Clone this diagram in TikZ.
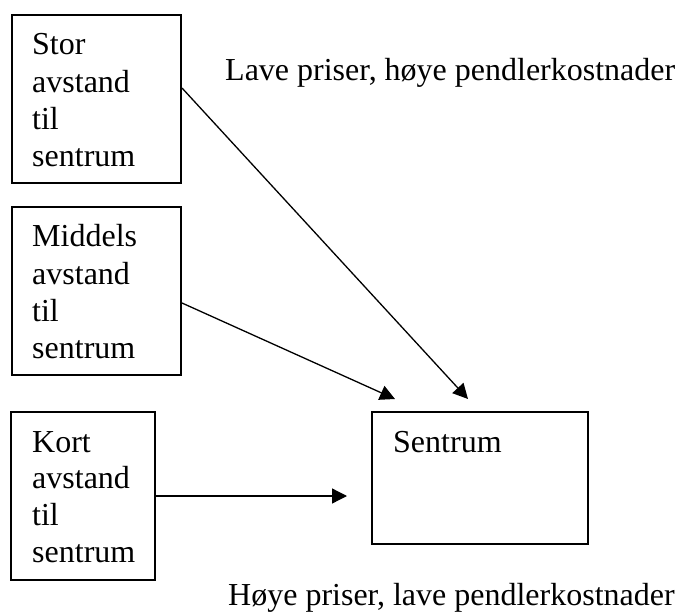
\documentclass[tikz,border=0pt]{standalone}
\usepackage{fontspec}
\setmainfont{Liberation Serif}
\usetikzlibrary{arrows.meta}
\begin{document}
\begin{tikzpicture}[x=1pt,y=-1pt,
  box/.style={draw,line width=2pt,inner sep=0pt},
  lbl/.style={anchor=base west,inner sep=0pt,font=\fontsize{32}{38}\selectfont},
  arr/.style={line width=1.3pt,-{Triangle[length=15pt,width=15pt]}}]
\useasboundingbox (0,0) rectangle (678,615);
% boxes
\node[box,minimum width=169pt,minimum height=168pt] (b1) at (96.5,99) {};
\node[box,minimum width=169pt,minimum height=168pt] (b2) at (96.5,291) {};
\node[box,minimum width=144pt,minimum height=168pt] (b3) at (83,496) {};
\node[box,minimum width=216pt,minimum height=132pt] (s) at (480,478) {};
% box texts
\foreach \t [count=\i] in {Stor,avstand,til,sentrum}
  \node[lbl] (t1\i) at (32,{55+37.3*(\i-1)}) {\t};
\foreach \t [count=\i] in {Middels,avstand,til,sentrum}
  \node[lbl] (t2\i) at (32,{247+37*(\i-1)}) {\t};
\foreach \t [count=\i] in {Kort,avstand,til,sentrum}
  \node[lbl] (t3\i) at (32,{452+36.7*(\i-1)}) {\t};
\node[lbl] (st) at (393,452) {Sentrum};
\node[lbl] (top) at (225,81) {Lave priser, høye pendlerkostnader};
\node[lbl] (bot) at (228,605) {Høye priser, lave pendlerkostnader};
% arrow ends
\coordinate (e1) at (468,399);
\coordinate (e2) at (395,399);
\coordinate (e3) at (347,496);
\draw[arr] ([yshift=11pt]b1.east) -- (e1);
\draw[arr] ([yshift=-12pt]b2.east) -- (e2);
\draw[arr] (b3.east) -- (e3);
\end{tikzpicture}
\end{document}
